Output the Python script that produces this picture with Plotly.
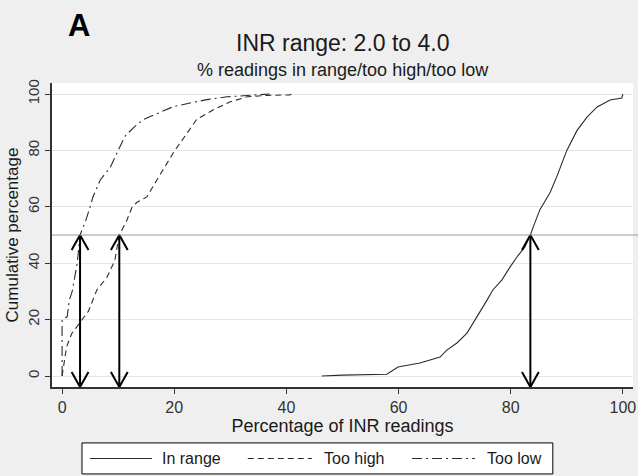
import plotly.graph_objects as go

# ---- data ----
series_names = ["In range", "Too high", "Too low"]

in_range_x = [46.3, 50.0, 57.9, 59.9, 63.8, 65.6, 67.4, 68.6, 70.4, 72.2, 73.3, 74.5, 75.8, 76.8,
              78.4, 79.9, 81.1, 82.5, 83.5, 84.0, 85.2, 87.0, 88.2, 90.0, 91.8, 93.6, 95.4, 97.7, 99.8, 100.0]
in_range_y = [0.0, 0.3, 0.6, 3.2, 4.6, 5.7, 6.7, 9.2, 11.7, 15.2, 18.8, 22.3, 27.0, 30.5,
              34.0, 38.7, 42.2, 45.7, 50.0, 52.8, 59.0, 65.0, 70.6, 80.0, 87.0, 91.8, 95.4, 97.9, 98.6, 100.0]

too_high_x = [0.0, 0.8, 1.7, 3.2, 4.7, 6.2, 8.0, 9.4, 9.9, 10.2, 11.5, 12.5, 13.3, 15.1, 16.9, 18.7,
              20.1, 21.9, 24.0, 26.9, 29.9, 33.0, 36.5, 40.6, 41.0]
too_high_y = [0.0, 10.3, 15.0, 18.8, 23.0, 30.5, 35.0, 41.0, 46.0, 50.0, 55.0, 60.0, 61.5, 63.5, 69.5, 75.5,
              80.0, 85.0, 91.0, 94.3, 97.2, 99.0, 99.5, 99.7, 100.0]

too_low_x = [0.0, 0.0, 0.9, 1.3, 1.8, 2.7, 3.2, 4.2, 5.0, 5.5, 6.8, 8.6, 10.0, 11.2, 12.7, 14.5,
             16.9, 19.8, 22.8, 25.8, 29.4, 31.7, 35.0, 37.0]
too_low_y = [0.0, 20.0, 21.0, 27.0, 30.0, 40.0, 50.0, 55.0, 60.0, 63.5, 69.5, 74.0, 80.0, 85.0, 88.0, 91.0,
             93.0, 95.5, 96.8, 98.0, 99.0, 99.3, 99.7, 100.0]

medians = [83.5, 10.2, 3.2]
median_level = 50

x_ticks = [0, 20, 40, 60, 80, 100]
y_ticks = [0, 20, 40, 60, 80, 100]

# ---- style ----
FONT = "Liberation Sans, Arial, sans-serif"
XR = [-1.8, 101.8]
YR = [-3.9, 103.9]
line_col = "#2b2b2b"
dashes = ["solid", "6px,4px", "10px,4px,2px,4px"]

fig = go.Figure()
for name, xs, ys, d in zip(series_names,
                           [in_range_x, too_high_x, too_low_x],
                           [in_range_y, too_high_y, too_low_y], dashes):
    fig.add_trace(go.Scatter(x=xs, y=ys, mode="lines", name=name, showlegend=False,
                             line=dict(color=line_col, width=1.1, dash=d)))

# double-headed arrows at medians
dx, dy = 1.5, 5.3
ybot = YR[0]
for m in medians:
    ax = [m, m, None,
          m - dx, m, m + dx, None,
          m - dx, m, m + dx]
    ay = [ybot, median_level, None,
          median_level - dy, median_level, median_level - dy, None,
          ybot + dy, ybot, ybot + dy]
    fig.add_trace(go.Scatter(x=ax, y=ay, mode="lines", showlegend=False, hoverinfo="skip",
                             line=dict(color="black", width=2)))

fig.add_shape(type="line", xref="paper", yref="y", x0=0, x1=1.01, y0=median_level, y1=median_level,
              line=dict(color="#9a9a9a", width=1), layer="above")

# ---- custom legend (paper coords) ----
fig.add_shape(type="rect", xref="paper", yref="paper", x0=0.0516, x1=0.862, y0=-0.286, y1=-0.184,
              line=dict(color="black", width=1), fillcolor="white")
leg_y = -0.235
sample_x = [(0.0654, 0.172), (0.337, 0.4475), (0.6196, 0.728)]
text_x = [0.186, 0.4647, 0.745]
for name, (a, b), tx, d in zip(series_names, sample_x, text_x, dashes):
    fig.add_shape(type="line", xref="paper", yref="paper", x0=a, x1=b, y0=leg_y, y1=leg_y,
                  line=dict(color=line_col, width=1.1, dash=d))
    fig.add_annotation(text=name, xref="paper", yref="paper", x=tx, y=leg_y,
                       xanchor="left", yanchor="middle", showarrow=False,
                       font=dict(family=FONT, size=16, color="#1a1a1a"))

fig.add_annotation(text="<b>A</b>", xref="paper", yref="paper", x=0.024, y=1.19,
                   xanchor="left", yanchor="middle", showarrow=False,
                   font=dict(family=FONT, size=31, color="black"))
fig.add_annotation(text="INR range: 2.0 to 4.0", xref="paper", yref="paper", x=0.5, y=1.132,
                   xanchor="center", yanchor="middle", showarrow=False,
                   font=dict(family=FONT, size=23, color="#1a1a1a"))
fig.add_annotation(text="% readings in range/too high/too low", xref="paper", yref="paper", x=0.5, y=1.043,
                   xanchor="center", yanchor="middle", showarrow=False,
                   font=dict(family=FONT, size=18, color="#1a1a1a"))

fig.update_layout(
    width=638, height=476,
    margin=dict(l=52, r=5, t=83, b=89, autoexpand=False),
    paper_bgcolor="#efefef", plot_bgcolor="white",
    font=dict(family=FONT, color="#222", size=16),
    showlegend=False,
)
fig.update_xaxes(range=XR, tickvals=x_ticks, ticktext=[str(v) for v in x_ticks],
                 showgrid=False, zeroline=False, showline=True, linecolor="#333", linewidth=1.5,
                 ticks="outside", ticklen=5, tickcolor="#333",
                 title=dict(text="Percentage of INR readings", font=dict(size=18, color="#1a1a1a"), standoff=0),
                 tickfont=dict(size=16, color="#333"))
fig.update_yaxes(range=YR, tickvals=y_ticks, ticktext=[str(v) for v in y_ticks],
                 showgrid=True, gridcolor="#e6e6e6", gridwidth=1, zeroline=False,
                 showline=True, linecolor="#333", linewidth=1.5,
                 ticks="outside", ticklen=5, tickcolor="#333", tickangle=-90,
                 title=dict(text="Cumulative percentage", font=dict(size=17, color="#1a1a1a"), standoff=2),
                 tickfont=dict(size=15, color="#333"))

fig.write_html("out.html")
